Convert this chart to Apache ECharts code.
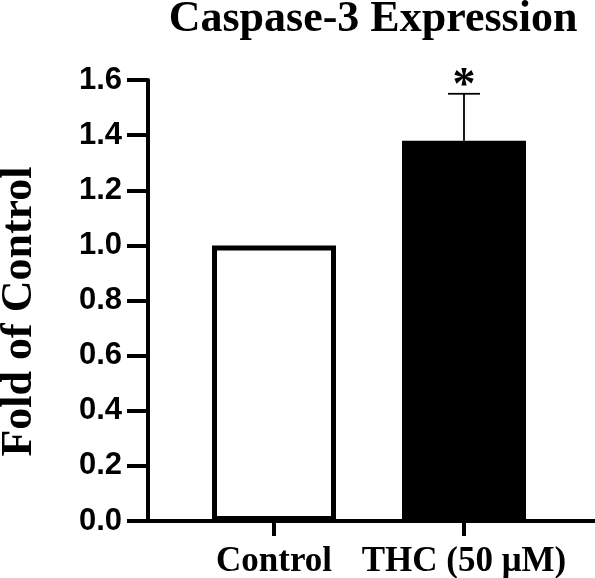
<!DOCTYPE html>
<html>
<head>
<meta charset="utf-8">
<script src="https://cdn.jsdelivr.net/npm/echarts@6/dist/echarts.min.js"></script>
<style>
html,body{margin:0;padding:0;background:#fff;}
#chart{width:595px;height:578px;}
</style>
</head>
<body>
<div id="chart"></div>
<script>
const categories = ['Control', 'THC (50 \u03bcM)'];
const meanValues = [1.0, 1.38];
const errorUpper = [null, 1.55];
const significance = ['', '*'];
const yTicks = [0, 0.2, 0.4, 0.6, 0.8, 1.0, 1.2, 1.4, 1.6];

const chart = echarts.init(document.getElementById('chart'), null, {renderer: 'canvas'});

const serif = '"Liberation Serif", "Times New Roman", serif';
const sans = '"Liberation Sans", Arial, sans-serif';

const barData = meanValues.map((v, i) => ({
  value: v,
  itemStyle: i === 0
    ? {color: '#ffffff', borderColor: '#000000', borderWidth: 5}
    : {color: '#000000', borderColor: '#000000', borderWidth: 0}
}));

const errData = [];
errorUpper.forEach((e, i) => {
  if (e !== null) errData.push([i, meanValues[i], e, significance[i]]);
});

const option = {
  animation: false,
  backgroundColor: '#ffffff',
  title: {
    text: 'Caspase-3 Expression',
    left: 368,
    top: -7,
    textAlign: 'center',
    textStyle: {fontFamily: serif, fontWeight: 'bold', fontSize: 44, color: '#000'}
  },
  grid: [
    {left: 179, right: 36, top: 80, bottom: 57, outerBoundsMode: 'none', containLabel: false},
    {left: 148, right: 0, top: 80, bottom: 57, outerBoundsMode: 'none', containLabel: false}
  ],
  xAxis: [
    {
      type: 'category', gridIndex: 0, data: categories,
      axisLine: {show: false},
      axisTick: {show: true, alignWithLabel: true, length: 15, lineStyle: {color: '#000', width: 4}},
      axisLabel: {interval: 0, margin: 23, fontFamily: serif, fontWeight: 'bold', fontSize: 35, color: '#000'},
      splitLine: {show: false}
    },
    {
      type: 'category', gridIndex: 1, data: categories,
      axisLine: {show: true, lineStyle: {color: '#000', width: 4}},
      axisTick: {show: false}, axisLabel: {show: false}, splitLine: {show: false}
    }
  ],
  yAxis: [
    {type: 'value', gridIndex: 0, min: 0, max: 1.6, interval: 0.2, show: false},
    {
      type: 'value', gridIndex: 1, min: yTicks[0], max: yTicks[yTicks.length - 1], interval: 0.2,
      name: 'Fold of Control', nameLocation: 'middle', nameRotate: 90, nameGap: 106,
      nameTextStyle: {fontFamily: serif, fontWeight: 'bold', fontSize: 44, color: '#000', padding: [0, 22, 0, 0]},
      axisLine: {show: true, lineStyle: {color: '#000', width: 4}},
      axisTick: {show: true, length: 21, lineStyle: {color: '#000', width: 4}},
      axisLabel: {margin: 26, fontFamily: sans, fontWeight: 'bold', fontSize: 31, color: '#000',
        formatter: v => v.toFixed(1)},
      splitLine: {show: false}
    }
  ],
  series: [
    {
      type: 'bar', xAxisIndex: 0, yAxisIndex: 0, data: barData, barWidth: 124,
      z: 2
    },
    {
      type: 'custom', xAxisIndex: 0, yAxisIndex: 0, data: errData, z: 3,
      renderItem: function (params, api) {
        const x = api.value(0);
        const top = api.coord([x, api.value(2)]);
        const base = api.coord([x, api.value(1)]);
        const half = 16;
        return {
          type: 'group',
          children: [
            {type: 'line', shape: {x1: top[0], y1: base[1], x2: top[0], y2: top[1]},
              style: {stroke: '#000', lineWidth: 1.8}},
            {type: 'line', shape: {x1: top[0] - half, y1: top[1], x2: top[0] + half, y2: top[1]},
              style: {stroke: '#000', lineWidth: 1.8}},
            {type: 'text', x: top[0], y: top[1] + 16,
              style: {text: api.value(3), fontFamily: serif, fontWeight: 'bold', fontSize: 46,
                fill: '#000', align: 'center', verticalAlign: 'bottom'}}
          ]
        };
      }
    }
  ]
};
chart.setOption(option);
</script>
</body>
</html>
